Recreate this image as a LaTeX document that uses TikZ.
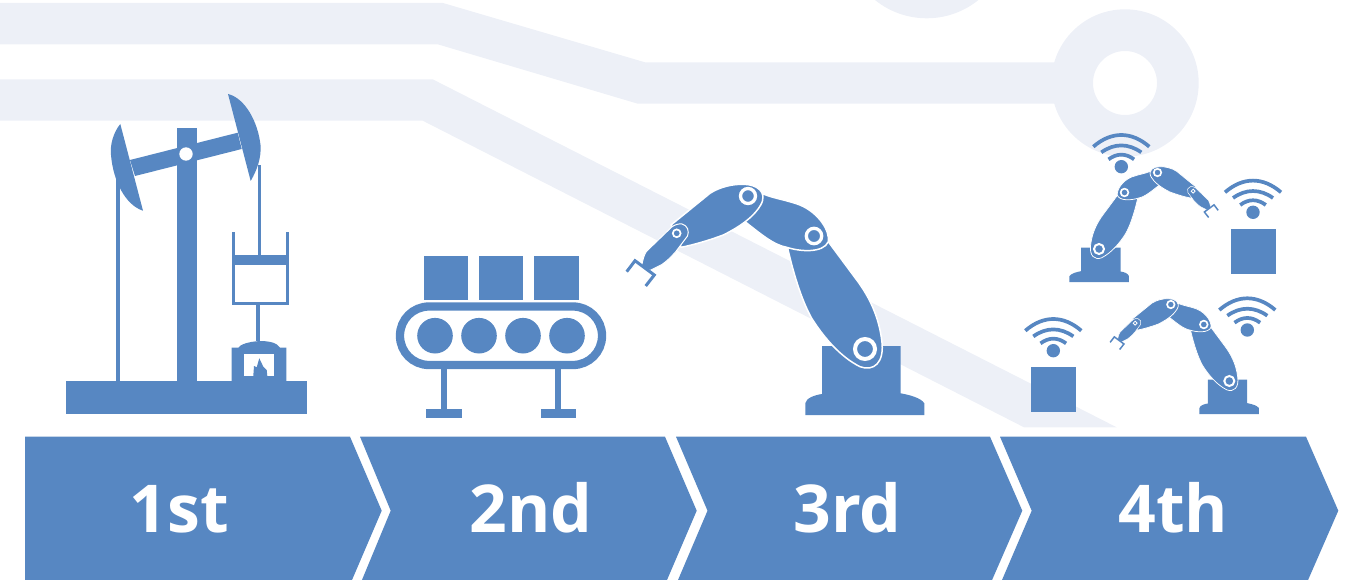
\documentclass[tikz,border=0pt]{standalone}
\usepackage{fontspec}
\setmainfont{Open Sans}
\usepackage{tikz}

\definecolor{iconblue}{HTML}{5787C2}
\definecolor{trackgray}{HTML}{EDF0F7}

% robot arm: x, y of the base joint, xscale, yscale
\newcommand{\robotarm}[4]{
\begin{scope}[shift={(#1,#2)}, xscale=#3, yscale=#4]
\fill[icon] (-59.7,66) -- (59.3,66) -- (59.3,54.3) .. controls (56,49) and (45,46) .. (35.7,44.3)
    -- (35.7,-3) -- (-43,-3) -- (-43,45) .. controls (-50,46) and (-59,49) .. (-59.7,54.3) -- cycle;
\draw[armlink, line width=#4*1.5pt] (-77.3,-100.7) .. controls (-70,-69) and (-61.7,-45.7) .. (-53.3,-30.7)
    .. controls (-41.7,-12.3) and (-25,7.7) .. (-5,17.7)
    .. controls (8.3,22.7) and (20,14.3) .. (16.7,-9)
    .. controls (13.3,-35.7) and (1.7,-55.7) .. (-8.3,-69)
    -- (-36.7,-107.3) -- (-51,-113) -- cycle;
\draw[armlink, line width=#4*1.5pt] (-120,-127.3) .. controls (-105,-115.7) and (-91.7,-104) .. (-78.3,-101.7)
    .. controls (-65,-97.3) and (-41.7,-95.7) .. (-36.7,-107.3)
    .. controls (-35,-118) and (-46,-136) .. (-65,-144)
    .. controls (-78.3,-149) and (-91.7,-150.7) .. (-101.7,-155)
    -- (-117,-153) -- cycle;
\draw[armlink, line width=#4*1.5pt] (-194,-124) -- (-155,-155.7)
    .. controls (-145,-162.3) and (-131.7,-165) .. (-121.7,-164.7)
    .. controls (-108.3,-164.7) and (-97,-157) .. (-104.3,-144)
    .. controls (-110,-134) and (-121.7,-124) .. (-141.7,-114)
    .. controls (-155,-109) and (-171.7,-104) .. (-184,-101.7)
    -- (-188,-116) -- cycle;
\draw[armlink, line width=#4*1pt] (-223.6,-82.3) .. controls (-222,-90) and (-221,-94) .. (-218.6,-97.6)
    -- (-193.3,-122) .. controls (-190,-124.5) and (-186,-125.5) .. (-183,-125)
    .. controls (-177.5,-123.5) and (-175.5,-118) .. (-177.5,-113)
    -- (-189.5,-97) .. controls (-194.5,-91.5) and (-197.5,-88.5) .. (-203,-84.5)
    -- (-215,-78.5) -- cycle;
\draw[iconblue, line width=#4*3pt] (-238.3,-77.3) -- (-230,-88.3) -- (-210.7,-74) -- (-219.3,-63);
\draw[joint, line width=#4*4pt] (0,0) circle [radius=10];
\draw[joint, line width=#4*3.3pt] (-51,-113) circle [radius=7.7];
\draw[joint, line width=#4*3.3pt] (-117,-153) circle [radius=7.5];
\draw[joint, line width=#4*1.7pt] (-188.3,-115.7) circle [radius=3.9];
\end{scope}
}

% wifi sign: x, y of the dot
\newcommand{\wifisign}[2]{
\begin{scope}[shift={(#1,#2)}]
\fill[icon] (0,0) circle [radius=6.7];
\draw[wave] (-12.8,-7.3) .. controls (-4.5,-13.6) and (4.5,-13.6) .. (12.8,-7.3);
\draw[wave] (-20,-14.3) .. controls (-7,-23.6) and (7,-23.6) .. (20,-14.3);
\draw[wave] (-28,-20) .. controls (-10,-35.6) and (10,-35.6) .. (28,-20);
\end{scope}
}

\begin{document}
\begin{tikzpicture}[
    x=1pt, y=-1pt,
    icon/.style={fill=iconblue},
    track/.style={fill=trackgray},
    armlink/.style={fill=iconblue, draw=white, line join=round},
    joint/.style={fill=iconblue, draw=white},
    wave/.style={draw=iconblue, line width=3.7pt},
    num/.style={text=white, font=\fontsize{66}{66}\selectfont\bfseries, anchor=base, inner sep=0pt}
]
\useasboundingbox (0,0) rectangle (1351,580);
\clip (0,0) rectangle (1351,580);

% circuit tracks behind the icons
\fill[track] (0,3) -- (443,3) -- (645,62.3) -- (1070,62.3) -- (1070,103.7) -- (637.7,103.7) -- (437.7,44.3) -- (0,44.3) -- cycle;
\fill[track] (0,79.3) -- (432.7,79.3) -- (1116.7,427.3) -- (1024,427.3) -- (422.7,120.7) -- (0,120.7) -- cycle;
\fill[track, even odd rule] (1125,83) circle [radius=73.7] (1125,83) circle [radius=32];
\fill[track] (926.7,-64) circle [radius=82.3];

% chevrons
\fill[icon] (25,436.7) -- (350,436.7) -- (381.7,510.7) -- (350,584.7) -- (25,584.7) -- cycle;
\fill[icon] (360,436.7) -- (665,436.7) -- (696.7,510.7) -- (665,584.7) -- (360,584.7) -- (390.7,510.7) -- cycle;
\fill[icon] (676,436.7) -- (990,436.7) -- (1022.3,510.7) -- (990,584.7) -- (676,584.7) -- (707.5,510.7) -- cycle;
\fill[icon] (1000,436.7) -- (1306,436.7) -- (1338.3,510.7) -- (1306,584.7) -- (1000,584.7) -- (1031.7,510.7) -- cycle;

\node[num] (first) at (179.5,532.8) {1st};
\node[num] (second) at (531,532.8) {2nd};
\node[num] (third) at (847.5,532.8) {3rd};
\node[num] (fourth) at (1173.5,532.8) {4th};

% pump
\fill[icon] (66.3,381) rectangle (306.7,414);
\fill[icon] (176.7,128) rectangle (196.7,381);
\fill[icon] (130,160) -- (237.7,132.7) -- (241.7,149) -- (135,176) -- cycle;
\fill[icon] (120.3,124) -- (143,210.7) .. controls (125,205) and (113,180) .. (111,155) .. controls (110,145) and (113,133) .. (120.3,124) -- cycle;
\fill[icon] (228,94) .. controls (245,98) and (258,122) .. (260.5,145) .. controls (261.5,158) and (257,170) .. (250.7,181) -- cycle;
\fill[white] (186,154) circle [radius=6.7];
\fill[icon] (116.2,165) rectangle (119.6,381);
\fill[icon] (257.7,165) rectangle (260.9,256);
\fill[icon] (231.5,232) rectangle (234.9,305.3);
\fill[icon] (285.8,232) rectangle (289.2,305.3);
\fill[icon] (231.5,302.3) rectangle (289.2,305.3);
\fill[icon] (231.5,255) rectangle (289.2,265);
\fill[icon] (256.3,305) rectangle (260.3,341);
\fill[icon] (231.7,347.7) -- (238.3,347.7) .. controls (242,341) and (274,337) .. (280,347.7) -- (286.3,347.7) -- (286.3,381) -- (231.7,381) -- cycle;
\fill[white] (244.3,354) rectangle (274,376);
\fill[icon] (253.3,376) -- (254,366) -- (256.7,367.3) -- (259.3,358.3) -- (263.3,366.7) -- (266.7,370) -- (267.3,376) -- cycle;

% conveyor
\fill[icon] (423.7,256) rectangle (467.7,300);
\fill[icon] (478.7,256) rectangle (522.7,300);
\fill[icon] (534.3,256) rectangle (578.7,300);
\draw[iconblue, line width=8.3pt, rounded corners=29] (400,306.5) rectangle (602,365);
\fill[icon] (435,335.7) circle [radius=17.8];
\fill[icon] (479,335.7) circle [radius=17.8];
\fill[icon] (523,335.7) circle [radius=17.8];
\fill[icon] (567,335.7) circle [radius=17.8];
\fill[icon] (440.7,369) rectangle (446.7,409);
\fill[icon] (555,369) rectangle (561,409);
\fill[icon] (426.3,409) rectangle (461.7,417.7);
\fill[icon] (540.7,409) rectangle (575.7,417.7);

% robots
\robotarm{865}{349}{1}{1}
\robotarm{1099}{249}{-0.5}{0.5}
\robotarm{1229.3}{381}{0.5}{0.5}

% boxes and wifi
\fill[icon] (1231,229) rectangle (1276,274);
\fill[icon] (1031,367) rectangle (1076,412);
\wifisign{1121.3}{166.7}
\wifisign{1253}{212.3}
\wifisign{1247.3}{330}
\wifisign{1053.3}{350.7}
\end{tikzpicture}
\end{document}
